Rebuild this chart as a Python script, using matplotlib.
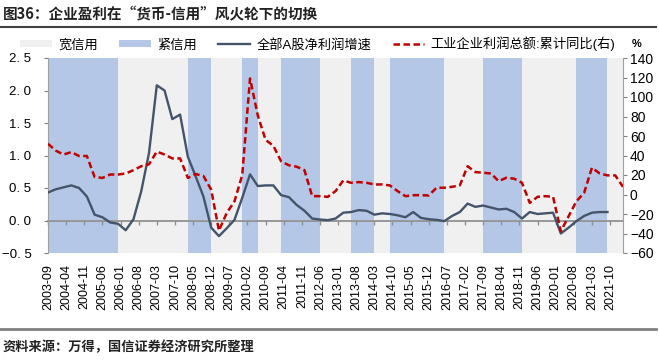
import matplotlib
matplotlib.use("Agg")
import matplotlib.pyplot as plt
from matplotlib.patches import Patch
from matplotlib.lines import Line2D
import pandas as pd

plt.rcParams['font.family'] = ['Liberation Sans', 'Noto Sans CJK SC', 'DejaVu Sans']
plt.rcParams['axes.unicode_minus'] = True

# data (quarterly)
start = "2003-09"
profit_a = [0.43, 0.48, 0.51, 0.54, 0.50, 0.37, 0.09, 0.05, -0.03, -0.05,
            -0.15, 0.02, 0.45, 1.04, 2.08, 2.00, 1.56, 1.63, 0.98, 0.68,
            0.37, -0.11, -0.24, -0.12, 0.01, 0.35, 0.71, 0.53, 0.54, 0.54,
            0.39, 0.36, 0.24, 0.15, 0.03, 0.015, 0.005, 0.03, 0.12, 0.13,
            0.16, 0.15, 0.09, 0.11, 0.10, 0.08, 0.05, 0.13, 0.04, 0.02,
            0.01, -0.01, 0.07, 0.13, 0.26, 0.21, 0.23, 0.20, 0.17, 0.18,
            0.13, 0.03, 0.13, 0.10, 0.11, 0.12, -0.20, -0.11, -0.01, 0.07,
            0.12, 0.13, 0.13]
ind_profit = [52, 45, 41, 43.5, 39.5, 39.5, 18, 17, 20.5, 20.5,
              21.5, 25, 29, 31, 44, 41, 37, 37, 17, 21,
              19, 5, -37, -19, -7, 20, 119, 81, 56, 50,
              34, 30, 28.5, 25, -1.7, -1.7, -2.4, 3.4, 14.4, 12,
              12.7, 12, 10.3, 10.3, 9.3, 3.4, -1.7, -0.7, -0.7, -1,
              6.9, 6.9, 7.9, 9.3, 29, 23, 22.3, 21.6, 13.7, 17.2,
              16.2, 12, -8.6, -2.4, -1.7, -2.4, -37.8, -22.3, -7, 1.7,
              27.5, 21.6, 19.6, 19.6, 7.9]
# tight-credit periods (start, end)
tight = [("2003-09", "2005-12"), ("2008-03", "2008-12"), ("2009-12", "2010-06"),
         ("2011-03", "2012-06"), ("2013-06", "2014-03"), ("2014-09", "2016-06"),
         ("2017-09", "2018-12"), ("2020-09", "2021-09")]
x_end = "2022-03"


def mi(s):
    # month index counted from the first month
    p = pd.Period(s, "M") - pd.Period(start, "M")
    return p.n


x_a = [3 * i for i in range(len(profit_a))]
x_ind = [3 * i for i in range(len(ind_profit))]
tick_pos = list(range(0, mi(x_end), 7))
tick_lab = [(pd.Period(start, "M") + t).strftime("%Y-%m") for t in tick_pos]

blue = "#b4c7e7"
gray = "#f0f0f0"
dark = "#44546a"
red = "#c00000"

fig = plt.figure(figsize=(6.59, 3.61), dpi=100)
ax = fig.add_axes([48 / 659, 108 / 361, 575 / 659, 195 / 361])
ax.set_facecolor(gray)

for a, b in tight:
    ax.axvspan(mi(a), mi(b), color=blue, lw=0, zorder=0)

ax.plot(x_a, profit_a, color=dark, lw=1.7, zorder=3)
ax.set_xlim(0, mi(x_end))
ax.set_ylim(-0.5, 2.5)
ax.set_yticks([-0.5, 0, 0.5, 1.0, 1.5, 2.0, 2.5])
ax.set_yticklabels(["−0. 5", "0. 0", "0. 5", "1. 0", "1. 5", "2. 0", "2. 5"])
ax.set_xticks(tick_pos)
ax.set_xticklabels(tick_lab, rotation=90)
ax.tick_params(axis='x', length=0, labelsize=9, pad=8)
ax.tick_params(axis='y', length=3, color="#808080", labelsize=9.5, pad=9)
for s in ["top", "right", "bottom"]:
    ax.spines[s].set_visible(False)
ax.spines["left"].set_color("#a0a0a0")

# zero line with tick marks
sec = ax.secondary_xaxis(0.5 / 3)
sec.set_xticks(tick_pos)
sec.set_xticklabels([])
sec.tick_params(axis='x', direction='out', length=3, color="#909090", width=1)
sec.spines["bottom"].set_color("#909090")
sec.spines["bottom"].set_linewidth(1.3)

ax2 = ax.twinx()
ax2.plot(x_ind, ind_profit, color=red, lw=1.8, ls=(0, (2.6, 1.4)), zorder=4)
ax2.set_ylim(-60, 140)
ax2.set_yticks(range(-60, 141, 20))
ax2.tick_params(axis='y', length=3, color="#808080", labelsize=10, pad=2)
for s in ["top", "left", "bottom"]:
    ax2.spines[s].set_visible(False)
ax2.spines["right"].set_color("#a0a0a0")

handles = [Patch(facecolor=gray, edgecolor='none'),
           Patch(facecolor=blue, edgecolor='none'),
           Line2D([], [], color=dark, lw=1.7),
           Line2D([], [], color=red, lw=1.8, ls=(0, (2.6, 1.4)))]
labels = ["宽信用", "紧信用", "全部A股净利润增速", "工业企业利润总额:累计同比(右)"]
fig.legend(handles, labels, loc="center left", bbox_to_anchor=(20 / 659, 1 - 44 / 361),
           ncol=4, frameon=False, fontsize=9.5, handlelength=2.4, handleheight=0.45,
           handletextpad=0.5, columnspacing=1.6, borderaxespad=0, borderpad=0)
fig.text(632 / 659, 1 - 44 / 361, "%", fontsize=8, fontweight="bold", va="center")

fig.text(3 / 659, 1 - 14 / 361, "图36：企业盈利在“货币-信用”风火轮下的切换",
         fontsize=10.5, fontweight="bold", va="center", color="#222222",
         family=["Noto Sans CJK SC", "DejaVu Sans"])
fig.add_artist(Line2D([0, 0.995], [1 - 27 / 361] * 2, color="#404040", lw=1.5))
fig.add_artist(Line2D([0, 0.995], [1 - 329 / 361] * 2, color="#808080", lw=2))
fig.text(3 / 659, 1 - 347 / 361, "资料来源：万得，国信证券经济研究所整理",
         fontsize=9.5, fontweight="bold", va="center", color="#222222",
         family=["Noto Sans CJK SC", "DejaVu Sans"])

fig.savefig("out.png", dpi=100)
